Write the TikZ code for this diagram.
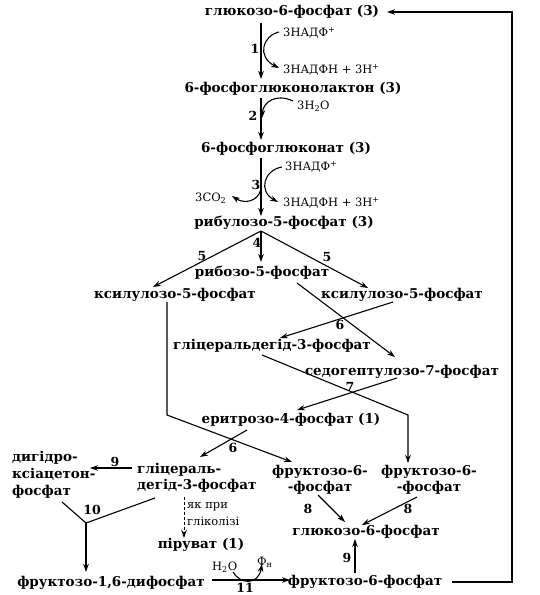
\documentclass[tikz,border=0pt]{standalone}
\usepackage{fontspec}
\setmainfont{DejaVu Serif}
\usetikzlibrary{arrows.meta}
\begin{document}
\begin{tikzpicture}[x=1pt,y=-1pt,
  met/.style={inner sep=0pt,font=\fontsize{13.5}{15}\selectfont\bfseries},
  metl/.style={inner sep=0pt,font=\fontsize{13.5}{17}\selectfont\bfseries,align=left,anchor=west},
  metc/.style={inner sep=0pt,font=\fontsize{13.5}{16}\selectfont\bfseries,align=center},
  num/.style={inner sep=0pt,font=\fontsize{12.5}{14}\selectfont\bfseries},
  co/.style={inner sep=0pt,font=\fontsize{11.5}{17}\selectfont,anchor=west,align=left},
  arr/.style={line width=1.1pt,-{Stealth[length=8pt,width=5.5pt]}},
  ln/.style={line width=1.1pt}]
\useasboundingbox (0,0) rectangle (540,595);
% metabolites
\node[met] (g6p) at (292,12) {глюкозо-6-фосфат (3)};
\node[met] (pgl) at (293,89) {6-фосфоглюконолактон (3)};
\node[met] (pg) at (286,149) {6-фосфоглюконат (3)};
\node[met] (ru5p) at (284,223) {рибулозо-5-фосфат (3)};
\node[met] (r5p) at (262,273) {рибозо-5-фосфат};
\node[met] (xl) at (175,295) {ксилулозо-5-фосфат};
\node[met] (xr) at (402,295) {ксилулозо-5-фосфат};
\node[met] (gap1) at (272,346) {гліцеральдегід-3-фосфат};
\node[met] (s7p) at (402,372) {седогептулозо-7-фосфат};
\node[met] (e4p) at (291,420) {еритрозо-4-фосфат (1)};
\node[metl,font=\fontsize{13.5}{16}\selectfont\bfseries] (gap2) at (137,478) {гліцераль-\\дегід-3-фосфат};
\node[metl] (dhap) at (12,475) {дигідро-\\ксіацетон-\\фосфат};
\node[metc] (f6pl) at (320,480) {фруктозо-6-\\-фосфат};
\node[metc] (f6pr) at (429,480) {фруктозо-6-\\-фосфат};
\node[met] (g6p2) at (366,532) {глюкозо-6-фосфат};
\node[met] (pyr) at (201,545) {піруват (1)};
\node[met] (fbp) at (111,583) {фруктозо-1,6-дифосфат};
\node[met] (f6p) at (365,582) {фруктозо-6-фосфат};
% step numbers
\node[num] (n1) at (255,49) {1};
\node[num] (n2) at (253,116) {2};
\node[num] (n3) at (256,185) {3};
\node[num] (n4) at (257,243) {4};
\node[num] (n5a) at (202,256) {5};
\node[num] (n5b) at (327,257) {5};
\node[num] (n6a) at (340,325) {6};
\node[num] (n7) at (350,387) {7};
\node[num] (n6b) at (233,448) {6};
\node[num] (n9a) at (115,462) {9};
\node[num] (n10) at (92,510) {10};
\node[num] (n8a) at (308,509) {8};
\node[num] (n8b) at (408,509) {8};
\node[num] (n9b) at (347,558) {9};
\node[num] (n11) at (245,588) {11};
% cofactors
\node[co] (c1) at (283,33) {3НАДФ\textsuperscript{+}};
\node[co] (c2) at (283,70) {3НАДФН + 3Н\textsuperscript{+}};
\node[co] (c3) at (297,106) {3Н\textsubscript{2}О};
\node[co] (c4) at (285,167) {3НАДФ\textsuperscript{+}};
\node[co] (c5) at (195,198) {3СО\textsubscript{2}};
\node[co] (c6) at (283,203) {3НАДФН + 3Н\textsuperscript{+}};
\node[co] (c7) at (187,514) {як при\\гліколізі};
\node[co] (c8) at (212,567) {Н\textsubscript{2}О};
\node[co] (c9) at (257,562) {Ф\textsubscript{н}};
% coordinates
\coordinate (a1s) at (261,23); \coordinate (a1e) at (261,79);
\coordinate (k1s) at (279,32); \coordinate (k1e) at (279,68);
\coordinate (a2s) at (261,98); \coordinate (a2e) at (261,140);
\coordinate (k2s) at (293,101); \coordinate (k2e) at (262,118);
\coordinate (a3s) at (261,158); \coordinate (a3e) at (261,216);
\coordinate (k3s) at (282,167); \coordinate (k3e) at (278,202);
\coordinate (k4s) at (261,189); \coordinate (k4e) at (232,196);
\coordinate (apex) at (261,231);
\coordinate (xle) at (153,287); \coordinate (r5e) at (261,262); \coordinate (xre) at (368,288);
\coordinate (r5s) at (297,283); \coordinate (s7e) at (395,357);
\coordinate (xrs) at (393,302); \coordinate (g1e) at (280,338);
\coordinate (g1s) at (262,355); \coordinate (g1b) at (408,415); \coordinate (frE) at (408,463);
\coordinate (s7s) at (397,378); \coordinate (e4e) at (297,410);
\coordinate (xls) at (167,302); \coordinate (xlb) at (167,415); \coordinate (flE) at (292,462);
\coordinate (e4s) at (247,430); \coordinate (g2e) at (200,457);
\coordinate (g2s) at (132,468); \coordinate (dhe) at (90,468);
\coordinate (t1) at (62,502); \coordinate (t2) at (155,498); \coordinate (tj) at (86,523); \coordinate (fbe) at (86,572);
\coordinate (ds) at (184,497); \coordinate (de) at (184,538);
\coordinate (b11s) at (212,580); \coordinate (b11e) at (290,580);
\coordinate (k5s) at (233,572); \coordinate (k5e) at (262,564);
\coordinate (l8s) at (318,495); \coordinate (l8e) at (345,522);
\coordinate (r8s) at (417,497); \coordinate (r8e) at (362,525);
\coordinate (v9s) at (355,573); \coordinate (v9e) at (355,539);
\coordinate (lp1) at (452,582); \coordinate (lp2) at (512,582); \coordinate (lp3) at (512,12); \coordinate (lpe) at (387,12);
% connectors
\draw[arr] (a1s) -- (a1e);
\draw[arr] (k1s) .. controls (262,36) and (257,57) .. (k1e);
\draw[arr] (a2s) -- (a2e);
\draw[arr] (k2s) .. controls (276,93) and (263,102) .. (k2e);
\draw[arr] (a3s) -- (a3e);
\draw[arr] (k3s) .. controls (264,170) and (258,191) .. (k3e);
\draw[arr] (k4s) .. controls (258,202) and (244,204) .. (k4e);
\draw[arr] (apex) -- (xle);
\draw[arr] (apex) -- (r5e);
\draw[arr] (apex) -- (xre);
\draw[arr] (r5s) -- (s7e);
\draw[arr] (xrs) -- (g1e);
\draw[arr] (g1s) -- (g1b) -- (frE);
\draw[arr] (s7s) -- (e4e);
\draw[arr] (xls) -- (xlb) -- (flE);
\draw[arr] (e4s) -- (g2e);
\draw[arr] (g2s) -- (dhe);
\draw[ln] (t1) -- (tj) -- (t2);
\draw[arr] (tj) -- (fbe);
\draw[arr,dashed,line width=0.8pt,dash pattern=on 3pt off 2pt] (ds) -- (de);
\draw[arr] (b11s) -- (b11e);
\draw[arr] (k5s) .. controls (240,584) and (258,586) .. (k5e);
\draw[arr] (l8s) -- (l8e);
\draw[arr] (r8s) -- (r8e);
\draw[arr] (v9s) -- (v9e);
\draw[arr] (lp1) -- (lp2) -- (lp3) -- (lpe);
\end{tikzpicture}
\end{document}
